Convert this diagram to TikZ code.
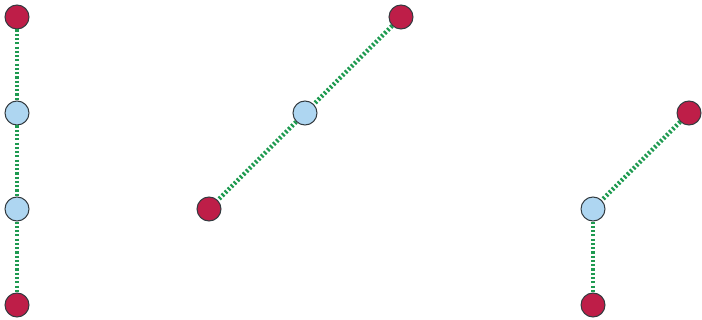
\documentclass[tikz,border=0pt]{standalone}
\usepackage{tikz}
\definecolor{figRed}{HTML}{BE1E48}
\definecolor{figBlue}{HTML}{AED6F1}
\definecolor{figLink}{HTML}{1E9A50}
\definecolor{figRim}{HTML}{333B40}
\tikzset{
  endpt/.style={circle,draw=figRim,fill=figRed,line width=0.75pt,inner sep=0pt,minimum size=18pt},
  midpt/.style={circle,draw=figRim,fill=figBlue,line width=0.75pt,inner sep=0pt,minimum size=18pt},
  link/.style={figLink,line width=3.3pt,dash pattern=on 1.6pt off 1.6pt}
}
\begin{document}
\begin{tikzpicture}[x=0.75pt,y=-0.75pt]
    \useasboundingbox (0,0) rectangle (702,320);
    % straight chain, four vertices
    \node[endpt] (a1) at (17,17) {};
    \node[midpt] (a2) at (17,113) {};
    \node[midpt] (a3) at (17,209) {};
    \node[endpt] (a4) at (17,305) {};
    % diagonal chain
    \node[endpt] (b1) at (401,17) {};
    \node[midpt] (b2) at (305,113) {};
    \node[endpt] (b3) at (209,209) {};
    % bent chain
    \node[endpt] (c1) at (689,113) {};
    \node[midpt] (c2) at (593,209) {};
    \node[endpt] (c3) at (593,305) {};
    % dotted links between the vertices
    \draw[link] (a1)--(a2);
    \draw[link] (a2)--(a3);
    \draw[link] (a3)--(a4);
    \draw[link] (b1)--(b2);
    \draw[link] (b2)--(b3);
    \draw[link] (c1)--(c2);
    \draw[link] (c2)--(c3);
\end{tikzpicture}
\end{document}
